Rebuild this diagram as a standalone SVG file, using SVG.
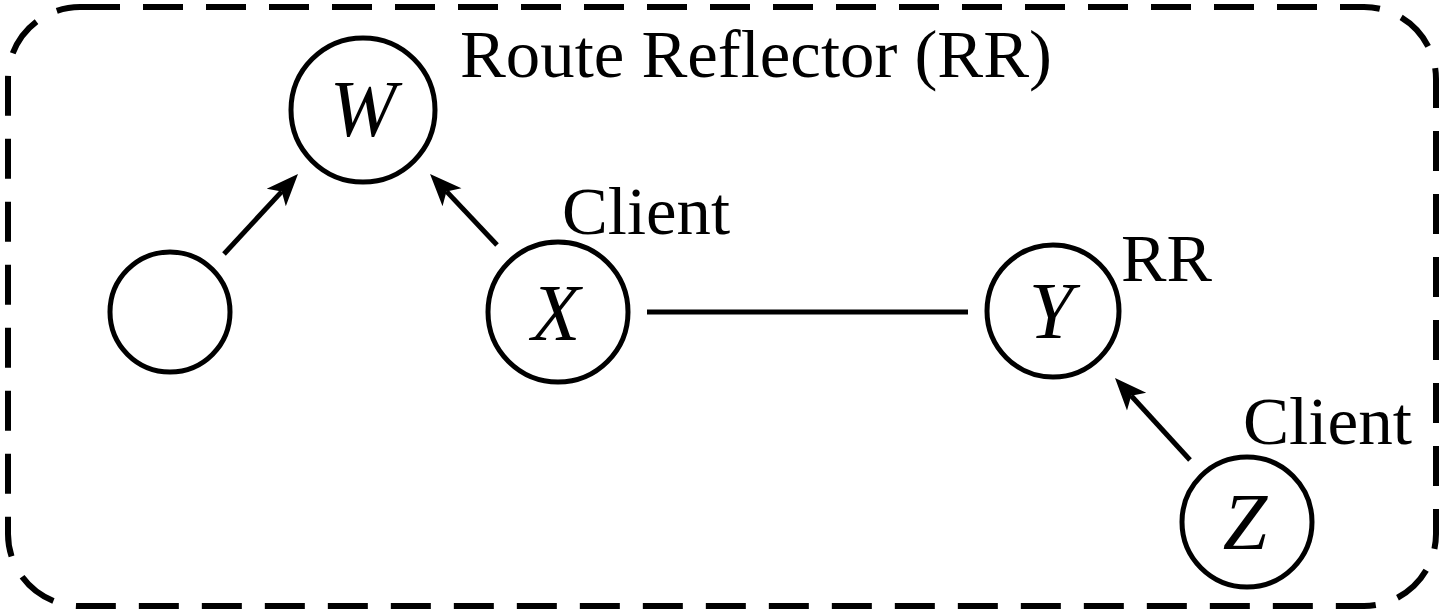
<svg xmlns="http://www.w3.org/2000/svg" width="1442" height="613" viewBox="0 0 1442 613">
  <style>
    .node { fill: none; stroke: #000; stroke-width: 5; }
    .edge { fill: none; stroke: #000; stroke-width: 5; }
    .var { font-style: italic; font-size: 80px; fill: #000; text-anchor: middle; }
    .lbl { font-size: 67px; fill: #000; }
    .region { fill: none; stroke: #000; stroke-width: 6; stroke-dasharray: 40 23; }
  </style>
  <defs>
    <marker id="head" markerUnits="userSpaceOnUse" viewBox="-10 -15 36 30" refX="0" refY="0" markerWidth="36" markerHeight="30" orient="auto">
      <path d="M24,0 L-8,-13 L0,0 L-8,13 Z" fill="#000"/>
    </marker>
  </defs>

  <!-- iBGP cluster boundary -->
  <rect class="region" x="8" y="7" width="1428" height="599" rx="72" ry="72"/>

  <!-- sessions -->
  <g id="connectors">
    <line class="edge" x1="224" y1="254" x2="281.7" y2="191.6" marker-end="url(#head)"/>
    <line class="edge" x1="497" y1="245" x2="446.5" y2="191.4" marker-end="url(#head)"/>
    <line class="edge" x1="647" y1="312" x2="968" y2="312"/>
    <line class="edge" x1="1190" y1="460" x2="1131.2" y2="395.7" marker-end="url(#head)"/>
  </g>

  <g id="node-w" font-family="'Liberation Serif', 'Times New Roman', Times, serif">
    <circle class="node" cx="363" cy="110" r="72"/>
    <text class="var" x="363" y="136">W</text>
    <text class="lbl" x="460" y="77" textLength="592" lengthAdjust="spacingAndGlyphs">Route Reflector (RR)</text>
  </g>

  <g id="node-a">
    <circle class="node" cx="170" cy="312" r="60"/>
  </g>

  <g id="node-x" font-family="'Liberation Serif', 'Times New Roman', Times, serif">
    <circle class="node" cx="558" cy="312" r="70"/>
    <text class="var" x="556" y="340">X</text>
    <text class="lbl" x="562" y="234" textLength="168" lengthAdjust="spacingAndGlyphs">Client</text>
  </g>

  <g id="node-y" font-family="'Liberation Serif', 'Times New Roman', Times, serif">
    <circle class="node" cx="1053" cy="311" r="66"/>
    <text class="var" x="1051" y="338">Y</text>
    <text class="lbl" x="1121" y="281" textLength="91" lengthAdjust="spacingAndGlyphs">RR</text>
  </g>

  <g id="node-z" font-family="'Liberation Serif', 'Times New Roman', Times, serif">
    <circle class="node" cx="1247" cy="522" r="65"/>
    <text class="var" x="1245" y="549">Z</text>
    <text class="lbl" x="1243" y="444" textLength="169" lengthAdjust="spacingAndGlyphs">Client</text>
  </g>
</svg>
